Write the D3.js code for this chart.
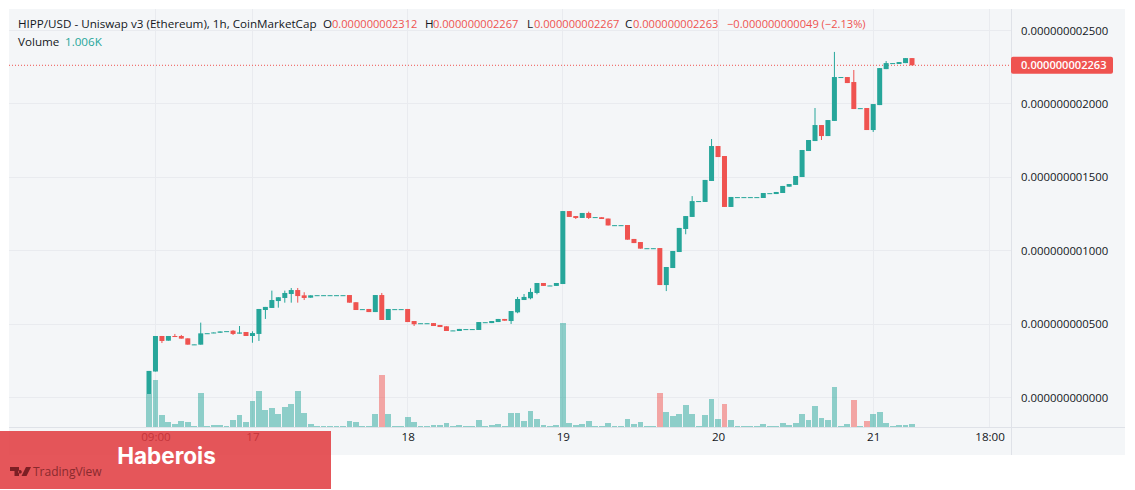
<!DOCTYPE html>
<html><head><meta charset="utf-8">
<script src="https://cdn.jsdelivr.net/npm/d3@7/dist/d3.min.js"></script>
<style>html,body{margin:0;padding:0;background:#fff;overflow:hidden}svg{display:block}text{font-family:"Open Sans","Noto Sans",sans-serif}</style>
</head><body><svg id="c" width="1135" height="490"></svg>
<script>
// Prices in units of 1e-12 USD, one entry per hourly bar, starting 16th 08:00
const open=[24,177,419,387,419,419,403,360,360,436,
438,441,451,455,435,446,419,433,596,610,
657,678,705,732,696,680,695,695,695,695,
695,698,649,600,603,582,698,528,600,600,
603,521,504,504,507,494,485,455,453,464,
464,460,511,507,514,535,521,580,664,676,
712,780,761,760,773,1270,1236,1223,1257,1227,
1228,1219,1172,1172,1175,1080,1059,1015,1015,1018,
766,882,991,1148,1230,1336,1332,1475,1713,1645,
1298,1363,1363,1363,1363,1359,1390,1386,1393,1436,
1448,1502,1679,1747,1856,1781,1884,2181,2183,2149,
1969,1972,1822,1992,2237,2276,2272,2278,2312];
const close=[181,419,385,419,412,401,360,362,437,438,
443,450,452,433,443,419,439,603,617,664,
683,712,732,691,678,696,697,697,697,697,
697,646,596,602,582,698,528,603,602,602,
514,499,506,506,487,480,453,457,467,466,
466,514,513,521,535,523,589,671,685,719,
780,760,763,780,1270,1230,1223,1257,1223,1229,
1216,1172,1174,1174,1075,1052,1014,1017,1017,766,
889,998,1155,1236,1338,1338,1482,1713,1638,1298,
1366,1365,1365,1365,1365,1393,1392,1400,1441,1454,
1509,1686,1754,1856,1781,1890,2183,2183,2142,1965,
1971,1822,1999,2244,2278,2278,2285,2312,2263];
const high=[181,419,419,419,433,426,403,362,510,438,
443,450,452,459,487,446,451,603,617,728,
683,728,746,746,717,696,697,697,697,697,
697,698,649,602,603,698,712,603,602,602,
603,521,506,506,507,494,485,457,467,466,
466,514,513,521,535,535,589,685,705,744,
780,780,763,780,1270,1270,1236,1257,1266,1229,
1228,1219,1174,1174,1175,1080,1059,1017,1017,1018,
889,998,1155,1236,1372,1338,1482,1761,1713,1645,
1366,1365,1365,1365,1365,1393,1392,1400,1441,1454,
1509,1686,1754,1972,1856,1890,2354,2183,2183,2231,
1971,1972,1999,2244,2292,2278,2285,2312,2312];
const low=[24,177,371,387,412,401,360,360,360,436,
438,441,451,426,435,419,373,385,535,610,
612,646,646,646,664,680,695,695,695,695,
695,646,596,600,582,582,528,528,600,600,
514,487,504,504,487,480,453,455,453,464,
464,460,511,507,514,523,501,574,664,669,
703,760,761,760,773,1230,1216,1223,1216,1227,
1216,1172,1172,1172,1075,1052,1014,1015,1015,766,
725,882,991,1112,1230,1336,1332,1475,1638,1298,
1298,1363,1363,1363,1363,1359,1390,1386,1393,1436,
1448,1502,1679,1747,1754,1781,1884,2181,2142,1965,
1969,1822,1809,1992,2237,2276,2272,2278,2263];
const volume=[10050,14400,3750,1600,1006,1900,1600,400,10450,400,
700,700,400,2200,3750,1600,8000,11050,5250,5900,
4050,6200,7100,11050,4350,1006,400,400,400,400,
400,1900,1600,400,400,4050,15950,4050,400,400,
3100,1600,400,400,700,700,1300,400,700,400,
400,2200,400,700,1006,400,4350,4350,1900,4950,
2500,700,400,700,31800,1300,700,1006,1900,400,
400,1300,400,400,2500,1006,1600,400,400,10450,
4650,3450,4050,6800,4050,400,3750,8600,2500,7100,
2200,400,400,400,400,1006,400,400,1300,700,
1300,4050,2200,6500,2800,2200,12300,400,1006,8300,
400,1900,4050,4650,1300,400,700,700,1006];
const redVolumeBars=[36,79,89,109,111];
const priceTicks=[0,500,1000,1500,2000,2500];
const timeTickBars=[1,16,40,64,88,112,130];
const timeTickLabels=["09:00","17","18","19","20","21","18:00"];
const lastPrice=2263;
const legendTitle="HIPP/USD - Uniswap v3 (Ethereum), 1h, CoinMarketCap";
const legendLetters=["O","H","L","C"];
const legendValues=["0.000000002312","0.000000002267","0.000000002267","0.000000002263"];
const legendChange="\u22120.000000000049 (\u22122.13%)";
const volumeLabel="1.006K";

const UP="#26a69a",DOWN="#ef5350",INK="#131722",GRID="#e9ebef";
const svg=d3.select("#c");
const L=9,R=1125,T=9,B=455,AX=1011,TB=427;
const x=d3.scaleLinear().domain([0,130]).range([149,989.6]);
const y=d3.scaleLinear().domain([0,2500]).range([397.5,30.5]);
const yv=d3.scaleLinear().domain([0,31800]).range([427.3,323]);
const fmtP=v=>d3.format(".12f")(v*1e-12);
const NUM=11.35;

svg.append("rect").attr("x",L).attr("y",T).attr("width",R-L).attr("height",B-T).attr("fill","#f4f6f8");

// grid
const g=svg.append("g").attr("shape-rendering","crispEdges");
g.selectAll("line.h").data(priceTicks).join("line").attr("class","h")
 .attr("x1",L).attr("x2",AX).attr("y1",d=>y(d)).attr("y2",d=>y(d)).attr("stroke",GRID);
g.selectAll("line.v").data(timeTickBars).join("line").attr("class","v")
 .attr("x1",d=>x(d)).attr("x2",d=>x(d)).attr("y1",T).attr("y2",TB).attr("stroke",GRID);

// volume
const isRedVol=i=>redVolumeBars.includes(i);
svg.append("g").attr("shape-rendering","crispEdges").selectAll("rect").data(volume).join("rect")
 .attr("x",(d,i)=>x(i)-2.9).attr("width",5.8)
 .attr("y",d=>yv(d)).attr("height",d=>yv(0)-yv(d))
 .attr("fill",(d,i)=>isRedVol(i)?DOWN:UP).attr("fill-opacity",0.5);

// price line
svg.append("line").attr("x1",L).attr("x2",AX).attr("y1",y(lastPrice)).attr("y2",y(lastPrice))
 .attr("stroke",DOWN).attr("stroke-dasharray","1 2");

// candles
const idx=d3.range(open.length);
const col=i=>close[i]>=open[i]?UP:DOWN;
const cg=svg.append("g");
cg.selectAll("line").data(idx).join("line")
 .attr("x1",i=>x(i)).attr("x2",i=>x(i)).attr("y1",i=>y(high[i])).attr("y2",i=>y(low[i]))
 .attr("stroke",col).attr("stroke-width",1);
cg.selectAll("rect").data(idx).join("rect")
 .attr("x",i=>x(i)-2.5).attr("width",5)
 .attr("y",i=>y(Math.max(open[i],close[i])))
 .attr("height",i=>Math.max(1,Math.abs(y(open[i])-y(close[i]))))
 .attr("fill",col);

// axes lines
svg.append("line").attr("x1",AX+.5).attr("x2",AX+.5).attr("y1",T).attr("y2",B).attr("stroke","#dfe2e8");
svg.append("line").attr("x1",L).attr("x2",R).attr("y1",TB+.5).attr("y2",TB+.5).attr("stroke","#dfe2e8");

// price axis
const ya=svg.append("g").attr("transform",`translate(${AX},0)`)
 .call(d3.axisRight(y).tickValues(priceTicks).tickFormat(fmtP).tickSize(0).tickPadding(10));
ya.select(".domain").remove();
ya.selectAll("text").attr("fill",INK).style("font-size",NUM+"px").style("font-family",'"Open Sans",sans-serif');

// time axis
const xa=svg.append("g").attr("transform",`translate(0,${TB})`)
 .call(d3.axisBottom(x).tickValues(timeTickBars).tickFormat((d,i)=>timeTickLabels[i]).tickSize(0).tickPadding(6));
xa.select(".domain").remove();
xa.selectAll("text").attr("fill",INK).style("font-size","11.6px").style("font-family",'"Open Sans",sans-serif');

// last price tag
svg.append("rect").attr("x",AX).attr("y",y(lastPrice)-8.5).attr("width",102).attr("height",17).attr("rx",2).attr("fill",DOWN);
svg.append("text").attr("x",AX+10).attr("y",y(lastPrice)+4.2).attr("fill","#fff").style("font-size","11.1px").style("font-weight","600").text(fmtP(lastPrice));

// legend
const leg=(xp,yp,t,c,s)=>svg.append("text").attr("x",xp).attr("y",yp).attr("fill",c).style("font-size",s+"px").text(t);
leg(18,28,legendTitle,INK,11.65);
const legX=[323,425,527,625], valX=[332,433,534,633];
legendLetters.forEach((d,i)=>{leg(legX[i],28,d,INK,11.65);leg(valX[i],28,legendValues[i],DOWN,11.1);});
leg(727,28,legendChange,DOWN,11.1);
leg(18,46,"Volume",INK,11.65);
leg(65,46,volumeLabel,UP,11.65);

// banner
svg.append("rect").attr("x",0).attr("y",431).attr("width",331).attr("height",58).attr("fill","#e0383d").attr("fill-opacity",0.85);
svg.append("text").attr("x",166.5).attr("y",463.5).attr("text-anchor","middle").attr("fill","#fff")
 .style("font-family",'Inter,"Open Sans",sans-serif').style("font-size","22.5px").style("font-weight","700").text("Haberois");
svg.append("path").attr("fill","#7c1f24").attr("d","M10 467h9v9h-4.5v-5H10zM20 470a1.8 1.8 0 1 0 .01 0zM26 467h5l-4.5 9h-5z");
svg.append("text").attr("x",33).attr("y",476).attr("fill","#8a2a2e").style("font-size","12px").text("TradingView");
</script></body></html>
